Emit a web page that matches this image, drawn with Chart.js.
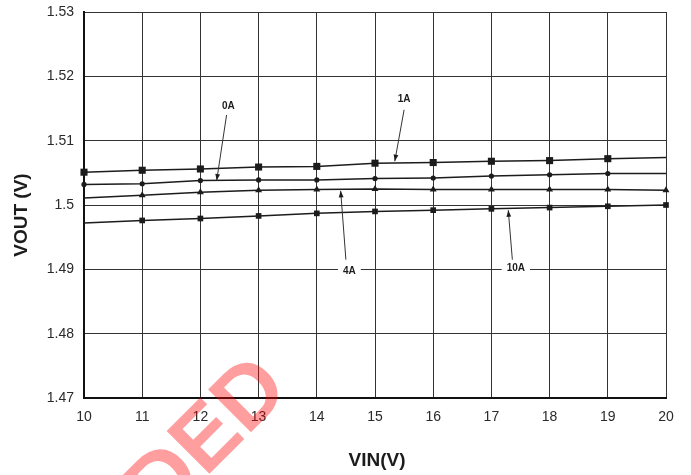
<!DOCTYPE html>
<html>
<head>
<meta charset="utf-8">
<script src="https://cdn.jsdelivr.net/npm/chart.js@4.4.1/dist/chart.umd.min.js"></script>
<style>
  html, body { margin: 0; padding: 0; background: #fff; }
  #wrap { width: 691px; height: 475px; position: relative; }
</style>
</head>
<body>
<div id="wrap"><canvas id="chart"></canvas></div>
<script>
// VIN (V)
const vin = [10, 11, 12, 13, 14, 15, 16, 17, 18, 19, 20];

// VOUT (V) per load current
const vout1A  = [1.5051, 1.5054, 1.5056, 1.5059, 1.5060, 1.5065, 1.5066, 1.5068, 1.5069, 1.5072, 1.5074];
const vout0A  = [1.5032, 1.5033, 1.5038, 1.5039, 1.5039, 1.5041, 1.5042, 1.5045, 1.5047, 1.5049, 1.5049];
const vout4A  = [1.5011, 1.5015, 1.5020, 1.5023, 1.5024, 1.5025, 1.5024, 1.5024, 1.5024, 1.5024, 1.5023];
const vout10A = [1.4972, 1.4976, 1.4979, 1.4983, 1.4987, 1.4990, 1.4992, 1.4994, 1.4996, 1.4998, 1.5000];

// axis ranges / tick steps
const xTicks = { min: 10, max: 20, step: 1 };
const yTicks = { min: 1.47, max: 1.53, step: 0.01 };

// curve callouts: label position, arrow tail, arrow head (data units)
const callouts = [
  { text: "0A",  label: [12.48, 1.5154], tail: [12.45, 1.5140], head: [12.28, 1.5038] },
  { text: "1A",  label: [15.50, 1.5164], tail: [15.50, 1.5148], head: [15.34, 1.5068] },
  { text: "4A",  label: [14.56, 1.4897], tail: [14.50, 1.4915], head: [14.41, 1.5022] },
  { text: "10A", label: [17.42, 1.4902], tail: [17.36, 1.4915], head: [17.29, 1.4992] }
];

function toPoints(ys) {
  return vin.map((x, i) => ({ x: x, y: ys[i] }));
}

const FONT = "'Liberation Sans', Arial, sans-serif";
const INK = "#1c1c1c";

const calloutPlugin = {
  id: "callouts",
  afterDatasetsDraw(chart) {
    const ctx = chart.ctx;
    const xs = chart.scales.x, ys = chart.scales.y;
    ctx.save();
    ctx.font = "bold 10px " + FONT;
    ctx.textAlign = "center";
    ctx.textBaseline = "middle";
    callouts.forEach(c => {
      const lx = xs.getPixelForValue(c.label[0]), ly = ys.getPixelForValue(c.label[1]);
      const tx = xs.getPixelForValue(c.tail[0]), ty = ys.getPixelForValue(c.tail[1]);
      const hx = xs.getPixelForValue(c.head[0]), hy = ys.getPixelForValue(c.head[1]);
      const w = ctx.measureText(c.text).width + 10;
      ctx.fillStyle = "#fff";
      ctx.fillRect(lx - w / 2, ly - 6, w, 12);
      ctx.fillStyle = INK;
      ctx.fillText(c.text, lx, ly);
      // arrow shaft
      ctx.strokeStyle = "#333";
      ctx.lineWidth = 1;
      ctx.beginPath();
      ctx.moveTo(tx, ty);
      ctx.lineTo(hx, hy);
      ctx.stroke();
      // arrow head
      const a = Math.atan2(hy - ty, hx - tx);
      ctx.beginPath();
      ctx.moveTo(hx, hy);
      ctx.lineTo(hx - 7 * Math.cos(a - 0.35), hy - 7 * Math.sin(a - 0.35));
      ctx.lineTo(hx - 7 * Math.cos(a + 0.35), hy - 7 * Math.sin(a + 0.35));
      ctx.closePath();
      ctx.fill();
    });
    ctx.restore();
  },
  afterDraw(chart) {
    const ctx = chart.ctx;
    const area = chart.chartArea;
    ctx.save();
    // axis titles
    ctx.fillStyle = INK;
    ctx.font = "bold 19px " + FONT;
    ctx.textAlign = "center";
    ctx.textBaseline = "middle";
    ctx.fillText("VIN(V)", (area.left + area.right) / 2 + 2, 461);
    ctx.translate(22, 215);
    ctx.rotate(-Math.PI / 2);
    ctx.fillText("VOUT (V)", 0, 0);
    ctx.restore();
    // watermark
    ctx.save();
    ctx.translate(252, 397);
    ctx.rotate(-Math.PI / 4);
    ctx.font = "bold 88px " + FONT;
    ctx.textAlign = "right";
    ctx.textBaseline = "middle";
    ctx.fillStyle = "rgba(255, 0, 0, 0.38)";
    ctx.fillText("RECORDED", 32, 0);
    ctx.restore();
  }
};

const showFirst = ctx => ctx.dataIndex < vin.length - 1;
const showLast = ctx => ctx.dataIndex > 0;

function series(label, ys, style, radius, visible) {
  return {
    label: label,
    data: toPoints(ys),
    borderColor: INK,
    backgroundColor: INK,
    borderWidth: 1.5,
    pointStyle: style,
    pointRadius: ctx => visible(ctx) ? radius : 0,
    pointBorderWidth: 0,
    pointHoverRadius: 0,
    tension: 0,
    clip: 10
  };
}

function noPad(s) {
  s.paddingTop = 0;
  s.paddingBottom = 0;
  s.paddingLeft = 0;
  s.paddingRight = 0;
}

new Chart(document.getElementById("chart"), {
  type: "line",
  data: {
    datasets: [
      series("1A", vout1A, "rect", 5, showFirst),
      series("0A", vout0A, "circle", 2.6, showFirst),
      series("4A", vout4A, "triangle", 4, showLast),
      series("10A", vout10A, "rect", 4, showLast)
    ]
  },
  options: {
    responsive: true,
    maintainAspectRatio: false,
    animation: false,
    events: [],
    layout: { padding: { top: 12, right: 25, left: 0, bottom: 0 } },
    plugins: { legend: { display: false }, tooltip: { enabled: false } },
    scales: {
      x: {
        type: "linear",
        min: xTicks.min,
        max: xTicks.max,
        afterFit: s => { s.height = 77; noPad(s); },
        ticks: {
          stepSize: xTicks.step,
          padding: 11,
          color: "#2a2a2a",
          font: { family: FONT, size: 14 },
          callback: v => String(v)
        },
        grid: { color: "#333", lineWidth: 1, drawTicks: false },
        border: { color: "#111", width: 2 }
      },
      y: {
        type: "linear",
        min: yTicks.min,
        max: yTicks.max,
        afterFit: s => { s.width = 84; noPad(s); },
        ticks: {
          stepSize: yTicks.step,
          padding: 10,
          color: "#2a2a2a",
          font: { family: FONT, size: 14 },
          callback: v => String(Number(v.toFixed(2)))
        },
        grid: { color: "#333", lineWidth: 1, drawTicks: false },
        border: { color: "#111", width: 2 }
      }
    }
  },
  plugins: [calloutPlugin]
});
</script>
</body>
</html>
